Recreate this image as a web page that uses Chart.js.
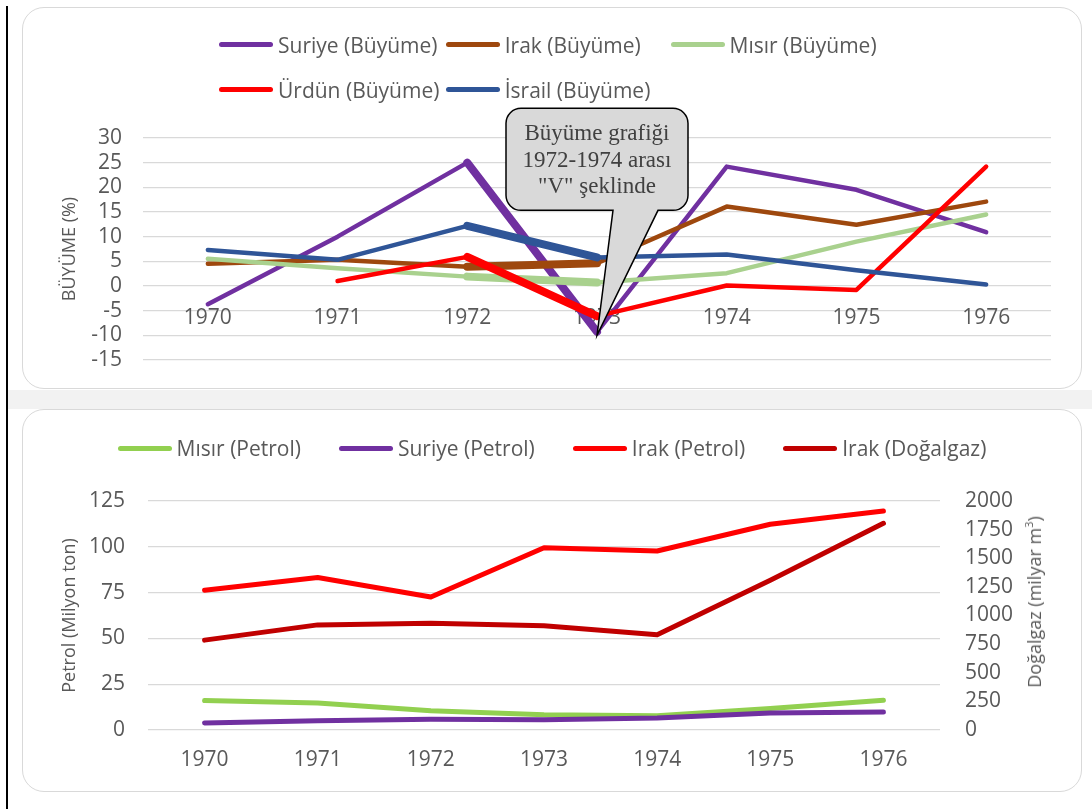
<!DOCTYPE html>
<html><head><meta charset="utf-8">
<script src="https://cdn.jsdelivr.net/npm/chart.js@4.4.1/dist/chart.umd.min.js"></script>
<style>
html,body{margin:0;padding:0;background:#fff;width:1092px;height:809px;overflow:hidden;font-family:'Open Sans',sans-serif;}
#vline{position:absolute;left:6px;top:6px;width:2px;height:803px;background:#000;}
#band{position:absolute;left:8px;top:390px;width:1084px;height:19px;background:#f2f2f2;}
.panel{position:absolute;left:22px;width:1058px;border:1px solid #d9d9d9;border-radius:22px;background:#fff;overflow:hidden;}
#p1{top:7px;height:380px;}
#p2{top:409px;height:381px;}
canvas{position:absolute;left:0;top:0;}
.legend{position:absolute;font-size:21px;color:#595959;}
#lg1{left:196px;top:14px;display:grid;grid-template-columns:226.7px 224.9px auto;}
#lg2{left:0;right:0;top:24px;display:flex;justify-content:center;gap:38px;}
.item{display:flex;align-items:center;height:45px;white-space:nowrap;}
#lg2 .item{height:28px;}
.sw{width:54px;height:5px;border-radius:3px;margin-right:5px;}
#t2r{position:absolute;left:1011px;top:192px;width:0;height:0;}
#t2r div{position:absolute;transform:translate(-50%,-50%) rotate(-90deg);white-space:nowrap;font-size:18px;color:#595959;}
#t2r sup{font-size:11px;vertical-align:8px;line-height:0;}
</style></head>
<body>
<div id="vline"></div>
<div id="band"></div>
<div class="panel" id="p1"><canvas id="c1" width="1058" height="380"></canvas><div class="legend" id="lg1"></div></div>
<div class="panel" id="p2"><canvas id="c2" width="1058" height="381"></canvas><div class="legend" id="lg2"></div>
<div id="t2r"><div>Doğalgaz (milyar m<sup>3</sup>)</div></div></div>
<script>
// ---- data ----
const years = ['1970','1971','1972','1973','1974','1975','1976'];

// Growth (%)
const growthNames = ['Suriye (Büyüme)','Irak (Büyüme)','Mısır (Büyüme)','Ürdün (Büyüme)','İsrail (Büyüme)'];
const suriyeGrowth = [-3.7, 10.0, 25.0, -9.3, 24.2, 19.5, 10.9];
const irakGrowth   = [4.5, 5.3, 3.9, 4.6, 16.1, 12.4, 17.1];
const misirGrowth  = [5.5, 3.6, 1.9, 0.7, 2.6, 9.0, 14.5];
const urdunGrowth  = [null, 1.0, 5.9, -6.1, 0.1, -0.8, 24.2];
const israilGrowth = [7.3, 5.3, 12.2, 5.8, 6.4, 3.2, 0.3];
const growthTicks = {min: -15, max: 30, step: 5};

// Oil (million t) and gas
const oilNames = ['Mısır (Petrol)','Suriye (Petrol)','Irak (Petrol)','Irak (Doğalgaz)'];
const misirOil  = [16.1, 14.7, 10.5, 8.3, 7.8, 11.8, 16.3];
const suriyeOil = [3.8, 5.1, 5.8, 5.6, 6.5, 9.3, 9.8];
const irakOil   = [76.3, 83.2, 72.6, 99.5, 97.7, 112.3, 119.5];
const irakGas   = [785, 918, 933, 910, 831, 1308, 1805];
const oilTicks = {min: 0, max: 125, step: 25};
const gasTicks = {min: 0, max: 2000, step: 250};

const calloutLines = ['Büyüme grafiği', '1972-1974 arası', '"V" şeklinde'];
const calloutAt = {index: 3, value: -10};
const highlightSegmentStart = 2; // 1972 -> 1973

// ---- styles ----
const TXT = '#595959', GRID = '#d9d9d9';
const growthColors = ['#7030A0','#9E480E','#A9D18E','#FF0000','#2F5597'];
const oilColors = ['#92D050','#7030A0','#FF0000','#C00000'];
const tickFont = {family: "'Open Sans'", size: 21};
const titleFont = {family: "'Open Sans'", size: 18};
const plain = v => String(v);

const calloutPlugin = {
  id: 'callout',
  afterDatasetsDraw(chart) {
    const {ctx, scales: {x, y}} = chart;
    const tx = x.getPixelForValue(calloutAt.index), ty = y.getPixelForValue(calloutAt.value);
    const L = tx - 91, R = tx + 91, T = ty - 227, B = ty - 125, r = 15;
    const p1 = tx + 16, p2 = tx + 61;
    ctx.save();
    ctx.beginPath();
    ctx.moveTo(L + r, T);
    ctx.lineTo(R - r, T);
    ctx.arcTo(R, T, R, T + r, r);
    ctx.lineTo(R, B - r);
    ctx.arcTo(R, B, R - r, B, r);
    ctx.lineTo(p2, B);
    ctx.lineTo(tx, ty);
    ctx.lineTo(p1, B);
    ctx.lineTo(L + r, B);
    ctx.arcTo(L, B, L, B - r, r);
    ctx.lineTo(L, T + r);
    ctx.arcTo(L, T, L + r, T, r);
    ctx.closePath();
    ctx.fillStyle = '#d9d9d9';
    ctx.fill();
    ctx.lineWidth = 1.5;
    ctx.lineJoin = 'miter';
    ctx.strokeStyle = '#000';
    ctx.stroke();
    ctx.fillStyle = '#404040';
    ctx.font = '23px "Liberation Serif", "Times New Roman", serif';
    ctx.textAlign = 'center';
    ctx.textBaseline = 'alphabetic';
    calloutLines.forEach((l, i) => ctx.fillText(l, tx, T + 32 + i * 26.5));
    ctx.restore();
  }
};

function buildLegend(el, chart) {
  chart.data.datasets.forEach(ds => {
    const it = document.createElement('div');
    it.className = 'item';
    const sw = document.createElement('div');
    sw.className = 'sw';
    sw.style.background = ds.borderColor;
    const tx = document.createElement('span');
    tx.textContent = ds.label;
    it.appendChild(sw); it.appendChild(tx);
    el.appendChild(it);
  });
}

Chart.defaults.color = TXT;
Chart.defaults.font.family = "'Open Sans'";

// ---- chart 1 ----
const growthSeries = [suriyeGrowth, irakGrowth, misirGrowth, urdunGrowth, israilGrowth];
const c1 = new Chart(document.getElementById('c1'), {
  type: 'line',
  data: {
    labels: years,
    datasets: growthSeries.map((d, i) => ({
      label: growthNames[i],
      data: d,
      borderColor: growthColors[i],
      backgroundColor: growthColors[i],
      borderWidth: 4.5,
      borderCapStyle: 'round',
      borderJoinStyle: 'round',
      pointRadius: 0,
      tension: 0,
      order: growthSeries.length - i,
      segment: {borderWidth: s => (s.p0DataIndex === highlightSegmentStart ? 8 : 4.5)}
    }))
  },
  options: {
    responsive: false, animation: false, events: [],
    layout: {padding: {top: 130, bottom: 28, left: 0, right: 30}},
    plugins: {legend: {display: false}, tooltip: {enabled: false}},
    scales: {
      x: {
        position: {y: 0}, offset: true,
        grid: {display: false, drawTicks: false},
        border: {display: false},
        ticks: {font: tickFont, color: TXT, padding: 19, maxRotation: 0, autoSkip: false}
      },
      y: {
        min: growthTicks.min, max: growthTicks.max,
        afterFit: s => { s.width = 120; },
        grid: {color: GRID, lineWidth: 1.3, drawTicks: true, tickLength: 21, tickColor: 'rgba(0,0,0,0)'},
        border: {display: false},
        ticks: {stepSize: growthTicks.step, font: tickFont, color: TXT, padding: 0, autoSkip: false, callback: plain},
        title: {display: true, text: 'BÜYÜME (%)', font: titleFont, color: TXT, padding: {top: 36}}
      }
    }
  },
  plugins: [calloutPlugin]
});
buildLegend(document.getElementById('lg1'), c1);

// ---- chart 2 ----
const oilSeries = [misirOil, suriyeOil, irakOil, irakGas];
const c2 = new Chart(document.getElementById('c2'), {
  type: 'line',
  data: {
    labels: years,
    datasets: oilSeries.map((d, i) => ({
      label: oilNames[i],
      data: d,
      yAxisID: i === 3 ? 'y1' : 'y',
      borderColor: oilColors[i],
      backgroundColor: oilColors[i],
      borderWidth: 5,
      borderCapStyle: 'round',
      borderJoinStyle: 'round',
      pointRadius: 0,
      tension: 0,
      order: oilSeries.length - i
    }))
  },
  options: {
    responsive: false, animation: false, events: [],
    layout: {padding: {top: 91, bottom: 0, left: 0, right: 0}},
    plugins: {legend: {display: false}, tooltip: {enabled: false}},
    scales: {
      x: {
        offset: true,
        afterFit: s => { s.height = 61; },
        grid: {display: false, drawTicks: false},
        border: {display: false},
        ticks: {font: tickFont, color: TXT, padding: 17, maxRotation: 0, autoSkip: false}
      },
      y: {
        position: 'left',
        min: oilTicks.min, max: oilTicks.max,
        afterFit: s => { s.width = 125; },
        grid: {color: GRID, lineWidth: 1.3, drawTicks: false},
        border: {display: false},
        ticks: {stepSize: oilTicks.step, font: tickFont, color: TXT, padding: 23, autoSkip: false, callback: plain},
        title: {display: true, text: 'Petrol (Milyon ton)', font: titleFont, color: TXT, padding: {top: 36}}
      },
      y1: {
        position: 'right',
        min: gasTicks.min, max: gasTicks.max,
        afterFit: s => { s.width = 141; },
        grid: {drawOnChartArea: false, drawTicks: false},
        border: {display: false},
        ticks: {stepSize: gasTicks.step, font: tickFont, color: TXT, padding: 25, autoSkip: false, callback: plain}
      }
    }
  }
});
buildLegend(document.getElementById('lg2'), c2);
</script>
</body></html>
